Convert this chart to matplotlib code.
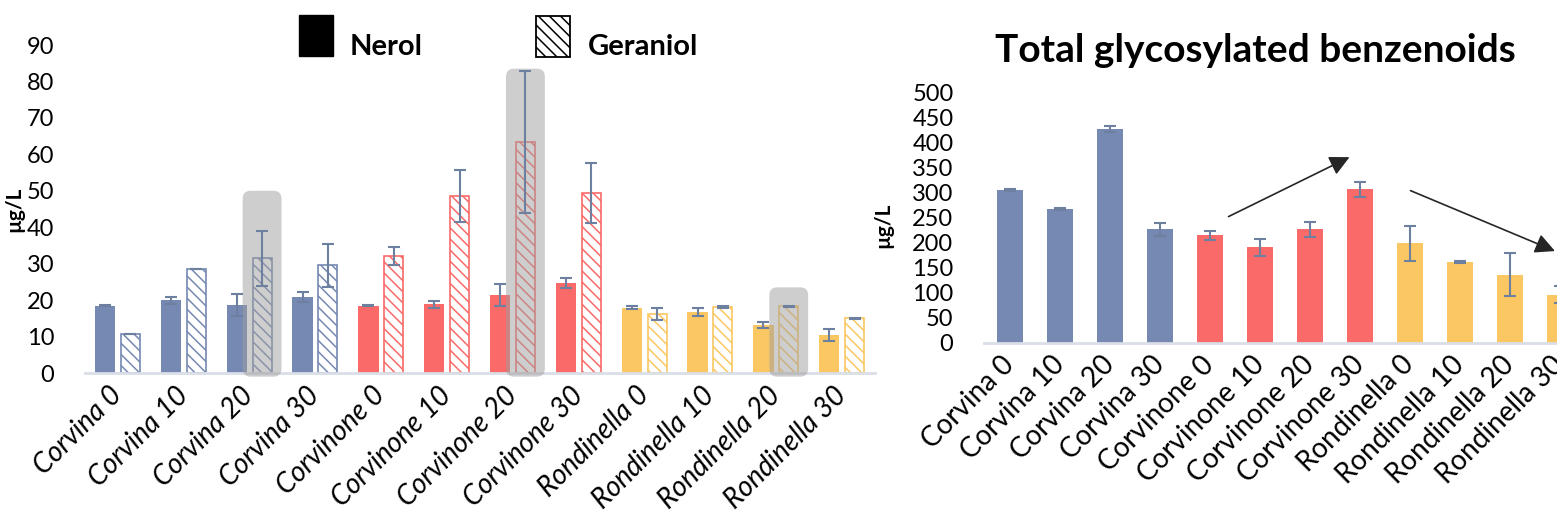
import matplotlib
matplotlib.use("Agg")
import matplotlib.pyplot as plt
import numpy as np
from matplotlib.patches import FancyBboxPatch, Rectangle

# ---- data -------------------------------------------------------------
samples = ["Corvina 0", "Corvina 10", "Corvina 20", "Corvina 30",
           "Corvinone 0", "Corvinone 10", "Corvinone 20", "Corvinone 30",
           "Rondinella 0", "Rondinella 10", "Rondinella 20", "Rondinella 30"]

nerol = [18.5, 19.9, 18.7, 20.9, 18.5, 18.8, 21.4, 24.7, 17.9, 16.8, 13.2, 10.4]
nerol_err = [0.2, 1.0, 3.0, 1.3, 0.2, 0.9, 3.0, 1.5, 0.4, 1.1, 0.9, 1.7]
geraniol = [10.6, 28.5, 31.5, 29.5, 32.1, 48.6, 63.5, 49.4, 16.2, 18.1, 18.3, 15.0]
geraniol_err = [0.0, 0.0, 7.5, 6.0, 2.4, 7.2, 19.5, 8.3, 1.6, 0.4, 0.2, 0.2]

benzenoids = [305, 266.6, 426.7, 226.5, 214.5, 190.5, 226.5, 306.6,
              198.5, 161, 135.8, 95.7]
benzenoids_err = [2, 2, 6, 13, 8.5, 16.5, 14.5, 15, 35, 2, 43, 17]

left_yticks = list(range(0, 91, 10))
right_yticks = list(range(0, 501, 50))

# highlighted geraniol samples (index, top of the shaded box in µg/L)
highlight_idx = [2, 6, 10]
highlight_top = [50, 83.5, 23.5]

# trend arrows on the benzenoid panel: (start, end) in data units
trend_arrows = [((4.37, 252), (6.79, 371)), ((8.01, 304), (10.9, 183))]

# ---- style ------------------------------------------------------------
BLUE, RED, YELLOW = "#7689B2", "#FA6A68", "#FBC762"
ERR = "#6E80A0"
AXIS = "#D9DEE7"
colors = [BLUE] * 4 + [RED] * 4 + [YELLOW] * 4
HATCH = "\\\\\\"

plt.rcParams["font.family"] = ["Lato", "DejaVu Sans"]
plt.rcParams["hatch.linewidth"] = 1.1

W, H = 1557, 519
fig = plt.figure(figsize=(W / 100, H / 100), dpi=100)


def style_axis(ax):
    for s in ("top", "right", "left"):
        ax.spines[s].set_visible(False)
    ax.spines["bottom"].set_color(AXIS)
    ax.spines["bottom"].set_linewidth(2)
    ax.tick_params(axis="both", length=0)
    ax.tick_params(axis="y", pad=22, labelsize=17)
    ax.tick_params(axis="x", pad=13, labelsize=20)


def fig_box(x0, y0, x1, y1):
    """Rectangle in figure pixels measured from the top-left corner."""
    return (x0 / W, 1 - y1 / H), (x1 - x0) / W, (y1 - y0) / H


# ---- left panel: nerol / geraniol -------------------------------------
ax1 = fig.add_axes([85 / W, 1 - 373 / H, 790 / W, 328 / H])
x = np.arange(len(samples))
xn, xg = x - 0.195, x + 0.19
ax1.bar(xn, nerol, 0.31, color=colors, zorder=2)
ax1.bar(xg, geraniol, 0.29, color="white", edgecolor=colors, hatch=HATCH,
        linewidth=1.2, zorder=2)

aspect = (790 / 12) / (328 / 90)
for i, top in zip(highlight_idx, highlight_top):
    box = FancyBboxPatch((xg[i] - 0.295, -1), 0.59, top + 1,
                         boxstyle="round,pad=0,rounding_size=0.12",
                         mutation_aspect=aspect, facecolor="#9E9E9E",
                         edgecolor="none", alpha=0.5, zorder=3, clip_on=False)
    ax1.add_patch(box)

ax1.errorbar(xn, nerol, yerr=nerol_err, fmt="none", ecolor=ERR,
             elinewidth=1.5, capsize=4, capthick=1.5, zorder=4)
ax1.errorbar(xg, geraniol, yerr=geraniol_err, fmt="none", ecolor=ERR,
             elinewidth=1.5, capsize=4, capthick=1.5, zorder=4)

ax1.set_xlim(-0.5, 11.5)
ax1.set_ylim(0, 90)
ax1.set_yticks(left_yticks)
ax1.set_xticks(x)
ax1.set_xticklabels(samples, rotation=45, ha="right", va="center",
                    rotation_mode="anchor", style="italic")
style_axis(ax1)
ax1.set_ylabel("µg/L", fontsize=15, fontweight="bold")
ax1.yaxis.set_label_coords(-0.077, 0.5)

# legend keys
xy, w, h = fig_box(299, 15, 333, 56)
fig.add_artist(Rectangle(xy, w, h, transform=fig.transFigure,
                         facecolor="black", edgecolor="black"))
xy, w, h = fig_box(536, 16, 570, 57)
fig.add_artist(Rectangle(xy, w, h, transform=fig.transFigure,
                         facecolor="white", edgecolor="black", hatch=HATCH,
                         linewidth=1.3))
fig.text(350 / W, 1 - 55 / H, "Nerol", fontsize=21, fontweight="bold",
         va="baseline")
fig.text(588 / W, 1 - 55 / H, "Geraniol", fontsize=21, fontweight="bold",
         va="baseline")

# ---- right panel: total glycosylated benzenoids -----------------------
ax2 = fig.add_axes([984 / W, 1 - 342.5 / H, 602 / W, 249.8 / H])
ax2.bar(x, benzenoids, 0.51, color=colors, zorder=2)
ax2.errorbar(x, benzenoids, yerr=benzenoids_err, fmt="none", ecolor=ERR,
             elinewidth=1.5, capsize=4, capthick=1.5, zorder=4)
ax2.set_xlim(-0.52, 11.52)
ax2.set_ylim(0, 500)
ax2.set_yticks(right_yticks)
ax2.set_xticks(x)
ax2.set_xticklabels(samples, rotation=45, ha="right", va="center",
                    rotation_mode="anchor")
style_axis(ax2)
ax2.set_ylabel("µg/L", fontsize=15, fontweight="bold")
ax2.yaxis.set_label_coords(-0.15, 0.47)

for start, end in trend_arrows:
    ax2.annotate("", xy=end, xytext=start,
                 arrowprops=dict(arrowstyle="-|>,head_length=0.6,head_width=0.3",
                                 mutation_scale=20, color="#262626", lw=1.2,
                                 shrinkA=0, shrinkB=0), annotation_clip=False)

fig.text(1255.5 / W, 1 - 62 / H, "Total glycosylated benzenoids",
         ha="center", va="baseline", fontsize=28, fontweight="bold")

fig.savefig("out.png", dpi=100)
